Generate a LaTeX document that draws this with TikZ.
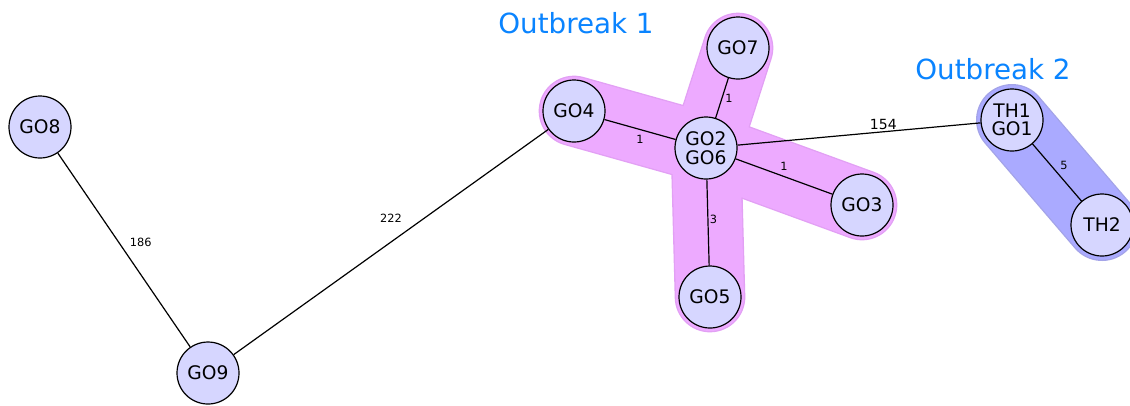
\documentclass[tikz,border=0pt]{standalone}
\usepackage{fontspec}
\setmainfont{DejaVu Sans}
\definecolor{nodefill}{HTML}{D6D6FF}
\definecolor{pinkband}{HTML}{EDAAFF}
\definecolor{pinkrim}{HTML}{E2A0F4}
\definecolor{blueband}{HTML}{AAAAFF}
\definecolor{bluerim}{HTML}{A4A4E8}
\definecolor{outbreak}{HTML}{0A84FF}
\begin{document}
\begin{tikzpicture}[x=0.75pt,y=-0.75pt,
    sample/.style={circle,draw=black,line width=0.9pt,fill=nodefill,minimum size=46.5pt,
      inner sep=0pt,align=center,font=\fontsize{14}{13.8}\selectfont},
    dist/.style={font=\fontsize{8.5}{9}\selectfont,inner sep=1pt},
    bigdist/.style={font=\fontsize{10.5}{11}\selectfont,inner sep=1pt},
    band/.style={line cap=round,line width=#1}]
      \useasboundingbox (0,0) rectangle (1130,405);
      % outbreak bands
      \coordinate (b8) at (706,148);
      \begin{scope}
        \draw[pinkrim,band=53pt] (574,111) -- (b8) (862,205) -- (b8) (738,48) -- (b8) (710,297) -- (b8);
        \draw[pinkband,band=51pt] (574,111) -- (b8) (862,205) -- (b8) (738,48) -- (b8) (710,297) -- (b8);
        \draw[bluerim,band=54pt] (1012,120) -- (1102,225);
        \draw[blueband,band=52pt] (1012,120) -- (1102,225);
      \end{scope}
      \node[text=outbreak,font=\fontsize{20.8}{21}\selectfont] (ob1) at (576,23) {Outbreak 1};
      \node[text=outbreak,font=\fontsize{20.8}{21}\selectfont] (ob2) at (993,69) {Outbreak 2};
      \draw
        (40,127) node[sample] (go8){GO8}
        (208,373) node[sample] (go9){GO9}
        (574,111) node[sample] (go4){GO4}
        (706,148) node[sample] (go26){GO2\\GO6}
        (738,48) node[sample] (go7){GO7}
        (862,205) node[sample] (go3){GO3}
        (710,297) node[sample] (go5){GO5}
        (1012,120) node[sample] (th1){TH1\\GO1}
        (1102,225) node[sample] (th2){TH2};
      \begin{scope}[-,line width=0.9pt]
        \draw (go8) to node[dist,pos=0.46,right=7pt] {186} (go9);
        \draw (go9) to node[dist,pos=0.5,above=13pt] {222} (go4);
        \draw (go4) to node[dist,pos=0.5,below=3pt] {1} (go26);
        \draw (go26) to node[dist,pos=0.5,right=1pt] {1} (go7);
        \draw (go26) to node[dist,pos=0.5,above=3pt] {1} (go3);
        \draw (go26) to node[dist,pos=0.46,right=0pt] {3} (go5);
        \draw (go26) to node[bigdist,pos=0.6,above=0pt] {154} (th1);
        \draw (th1) to node[dist,pos=0.5,above right=1pt] {5} (th2);
      \end{scope}
    \end{tikzpicture}
\end{document}
